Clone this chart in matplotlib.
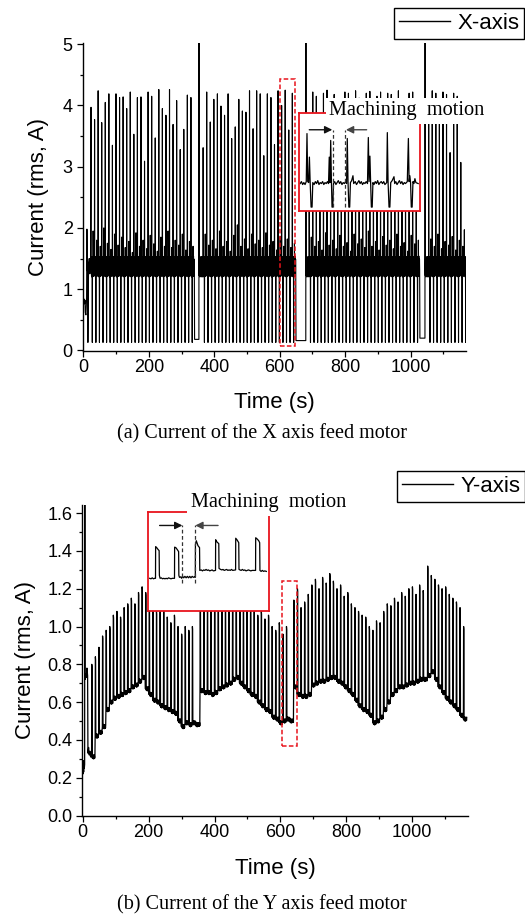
import numpy as np
import matplotlib
matplotlib.use("Agg")
import matplotlib.pyplot as plt
from matplotlib.ticker import MultipleLocator, FormatStrFormatter
from matplotlib.patches import Rectangle

plt.rcParams["font.family"] = ["Liberation Sans", "DejaVu Sans"]

W, H, DPI = 525, 917, 100

# ================= X-axis feed motor current =================
X_PERIOD = 10.9
x_start_t = [0, 2, 4, 5, 6, 8, 10, 11, 12, 13, 14, 16, 18, 20, 22]
x_start_v = [0.80, 0.84, 0.76, 0.82, 0.62, 0.58, 0.86, 1.98, 1.30, 1.45, 0.13, 1.35, 1.50, 1.25, 1.40]
x_seg_start = [23.5, 366.0, 690.0, 1055.0]
x_peaks_a = [3.97, 3.77, 4.24, 3.72, 4.05, 4.19, 3.35, 4.19, 4.13, 4.14, 3.95, 4.22, 3.53, 4.13,
             4.14, 3.09, 4.22, 4.15, 3.47, 4.26, 3.95, 3.84, 4.26, 3.69, 4.08, 3.28, 3.61, 4.17, 4.13]
x_peaks_b = [3.31, 4.22, 3.73, 4.10, 4.19, 3.99, 3.84, 4.19, 3.46, 3.65, 4.10, 3.91, 3.89, 4.24,
             3.62, 4.24, 4.19, 3.18, 4.19, 4.13, 3.36, 4.24, 4.00, 4.25, 3.60, 4.20]
x_peaks_c = [3.40, 4.22, 4.15, 3.70, 4.20, 4.25, 3.85, 4.18, 4.10, 3.55, 4.22, 4.20, 3.95, 4.24,
             4.12, 3.60, 4.20, 4.23, 3.90, 4.15, 4.22, 3.50, 4.20, 4.18, 3.80, 4.24, 4.10, 3.65,
             4.20, 4.22, 3.95]
x_peaks_d = [3.75, 4.24, 4.20, 3.77, 4.22, 4.18, 3.23, 4.20, 4.15, 3.07, 1.97]
x_meds_a = [1.95, 1.80, 1.70, 2.00, 1.75, 1.65, 1.90, 1.72, 1.85, 1.68, 1.78, 1.60, 1.92, 1.70,
            1.80, 1.66, 1.88, 1.74, 1.62, 1.85, 1.70, 1.95, 1.68, 1.80, 1.72, 1.90, 1.64, 1.78, 1.70]
x_meds_b = [1.90, 1.72, 1.80, 1.66, 1.95, 1.70, 1.78, 1.62, 1.88, 2.05, 1.70, 1.82, 1.66, 1.90,
            1.74, 1.80, 1.68, 1.92, 1.72, 1.78, 1.64, 1.86, 1.70, 1.82, 1.68, 1.75]
x_meds_c = [1.85, 1.70, 1.78, 1.64, 1.92, 1.72, 1.80, 1.66, 1.88, 1.70, 1.76, 1.62, 1.90, 1.74,
            1.82, 1.68, 1.95, 1.70, 1.78, 1.64, 1.86, 1.72, 1.80, 1.66, 1.90, 1.70, 1.76, 1.62,
            1.88, 1.74, 1.80]
x_meds_d = [1.82, 1.70, 1.90, 1.66, 1.78, 1.72, 1.86, 1.64, 1.80, 1.70, 1.60]
x_big_t = [353.5, 680.0, 1044.0]
x_big_v = [5.3, 5.3, 5.3]
x_low_v = [0.18, 0.16, 0.20]
x_after = [1.30, 1.48, 1.22, 1.40, 1.20, 1.53, 1.31]
x_dip = 0.13
x_mid = [1.20, 1.50, 1.33, 1.24]
x_tail = [1.45, 1.21, 1.54, 1.27, 1.40, 1.22, 1.49, 1.32]
x_fill = [1.36, 1.22, 1.50, 1.28, 1.46, 1.20, 1.53, 1.33]

# ================= Y-axis feed motor current =================
Y_PERIOD = 10.9
y_start_t = [0, 1, 2, 3, 4, 5, 6, 6.5, 7, 7.5, 9, 11, 13, 15, 16, 18, 20, 22, 24]
y_start_v = [0.26, 0.22, 0.29, 0.23, 0.28, 0.25, 0.27, 1.90, 0.74, 0.72, 0.75, 0.73, 0.78, 0.74,
             0.33, 0.36, 0.32, 0.34, 0.31]
y_seg_start = [27.0, 356.0, 640.0, 1046.0]
y_floor_a = [0.31, 0.42, 0.44, 0.47, 0.56, 0.60, 0.62, 0.63, 0.64, 0.65, 0.66, 0.68, 0.69, 0.71,
             0.73, 0.67, 0.64, 0.61, 0.60, 0.58, 0.57, 0.56, 0.55, 0.54, 0.50, 0.47, 0.49, 0.48, 0.49]
y_top_a = [0.80, 0.84, 0.89, 0.95, 0.98, 1.00, 1.06, 1.08, 1.05, 1.10, 1.12, 1.15, 1.12, 1.18,
           1.21, 1.18, 1.14, 1.16, 1.08, 1.10, 1.12, 1.05, 1.02, 1.06, 1.00, 0.96, 1.00, 0.98, 1.00]
y_floor_b = [0.66, 0.65, 0.65, 0.64, 0.65, 0.67, 0.68, 0.69, 0.70, 0.72, 0.73, 0.70, 0.68, 0.66,
             0.64, 0.63, 0.60, 0.58, 0.56, 0.55, 0.52, 0.51, 0.49, 0.50, 0.51]
y_top_b = [1.12, 1.10, 1.14, 1.08, 1.15, 1.17, 1.20, 1.16, 1.22, 1.19, 1.24, 1.21, 1.15, 1.18,
           1.12, 1.10, 1.06, 1.08, 1.04, 1.06, 1.00, 0.98, 1.02, 0.96, 1.00]
y_floor_c = [0.68, 0.64, 0.63, 0.63, 0.64, 0.69, 0.70, 0.71, 0.71, 0.72, 0.73, 0.73, 0.71, 0.70,
             0.68, 0.66, 0.64, 0.61, 0.58, 0.56, 0.55, 0.53, 0.49, 0.50, 0.52, 0.56, 0.60, 0.64,
             0.66, 0.68, 0.68, 0.69, 0.70, 0.70, 0.71, 0.72, 0.72]
y_top_c = [1.14, 1.20, 1.10, 1.13, 1.17, 1.22, 1.25, 1.20, 1.26, 1.23, 1.28, 1.24, 1.20, 1.22,
           1.16, 1.18, 1.12, 1.10, 1.08, 1.06, 1.05, 1.00, 0.98, 1.03, 1.02, 1.08, 1.12, 1.11,
           1.15, 1.13, 1.18, 1.16, 1.20, 1.21, 1.17, 1.22, 1.19]
y_floor_d = [0.74, 0.76, 0.72, 0.68, 0.65, 0.62, 0.60, 0.58, 0.56, 0.53, 0.51]
y_top_d = [1.32, 1.27, 1.25, 1.22, 1.20, 1.21, 1.17, 1.15, 1.13, 1.10, 1.00]
y_gap_v = [0.48, 0.50, 0.72]
y_noise = [0.000, 0.010, -0.008, 0.012, -0.006, 0.008, -0.011, 0.005, -0.004, 0.011, -0.009,
           0.006, -0.007, 0.009]

# ================= inset (zoomed) traces =================
ins_x = [(1, 0.28), (2, 0.30), (3, 0.27), (4, 0.29), (5, 0.27), (6, 0.30),
         (6.6, 0.79), (7.2, 0.30), (8.0, 0.29), (8.6, 0.55), (9.2, 0.30), (10.0, 0.04), (10.8, 0.04), (11.4, 0.29),
         (12.5, 0.27), (13.5, 0.30), (14.5, 0.28), (15.5, 0.31), (16.5, 0.27), (17.5, 0.29), (18.5, 0.28),
         (19.5, 0.30), (20.5, 0.27), (21.5, 0.29), (22.5, 0.28), (23.5, 0.30), (24.4, 0.28),
         (25.0, 0.55), (25.6, 0.29), (26.2, 0.72), (26.8, 0.30), (27.3, 0.04), (27.9, 0.04), (28.5, 0.28),
         (29.5, 0.30), (30.5, 0.27), (31.5, 0.29), (32.5, 0.31), (33.5, 0.28), (34.5, 0.30), (35.5, 0.27),
         (36.5, 0.29), (37.5, 0.28), (38.5, 0.30), (39.3, 0.28),
         (39.9, 0.74), (40.5, 0.30), (41.2, 0.04), (41.9, 0.04), (42.5, 0.29), (43.5, 0.31), (44.6, 0.36), (45.2, 0.28),
         (46.5, 0.30), (47.5, 0.27), (48.5, 0.29), (49.5, 0.31), (50.5, 0.28), (51.5, 0.30), (52.5, 0.27),
         (53.5, 0.29), (54.5, 0.28), (55.5, 0.30), (56.6, 0.28),
         (57.3, 0.75), (57.9, 0.30), (58.6, 0.56), (59.2, 0.29), (59.8, 0.04), (60.5, 0.04), (61.1, 0.29),
         (62, 0.27), (63, 0.30), (64, 0.28), (65, 0.31), (66, 0.27), (67, 0.29), (68, 0.30), (69, 0.28),
         (70, 0.30), (71, 0.27), (72.5, 0.29),
         (73.0, 0.80), (73.6, 0.30), (74.4, 0.04), (75.1, 0.04), (75.8, 0.29), (77, 0.31), (78.5, 0.35), (79.1, 0.28),
         (80, 0.30), (81, 0.27), (82, 0.29), (83, 0.31), (84, 0.28), (85, 0.30), (86, 0.27), (87, 0.29),
         (88, 0.28), (89.5, 0.30),
         (90.4, 0.74), (91.0, 0.30), (91.6, 0.36), (92.2, 0.29), (92.8, 0.04), (93.5, 0.04), (94.2, 0.30),
         (95, 0.28), (95.8, 0.33), (96.6, 0.29), (98.5, 0.28)]
ins_y = [(1.4, 0.33), (2.5, 0.325), (3.5, 0.335), (4.5, 0.325), (5.5, 0.33), (6.2, 0.33), (6.3, 0.65),
         (7.2, 0.64), (8.4, 0.62), (9.2, 0.61), (9.4, 0.36), (10, 0.33), (11, 0.335), (12, 0.325), (13, 0.33),
         (14, 0.325), (15, 0.33), (16, 0.325), (17, 0.335), (18, 0.33), (19, 0.325), (20, 0.33), (21.9, 0.33),
         (22.0, 0.645), (23, 0.64), (24.2, 0.62), (25.3, 0.60), (25.5, 0.36), (26, 0.34), (27, 0.345),
         (27.8, 0.33), (28.5, 0.35), (29.5, 0.335), (30.5, 0.35), (31.5, 0.335), (32.5, 0.35), (33.5, 0.335),
         (34.5, 0.35), (35.5, 0.335), (36.5, 0.35), (37.5, 0.34), (38.6, 0.345), (39.1, 0.34), (39.2, 0.67),
         (39.9, 0.71), (41.3, 0.66), (42.6, 0.64), (42.8, 0.41), (44, 0.415), (45, 0.405), (46, 0.415),
         (47, 0.41), (48, 0.42), (49, 0.41), (50, 0.415), (51, 0.405), (52, 0.41), (53, 0.415), (54, 0.405),
         (55.8, 0.41), (55.9, 0.72), (56.8, 0.70), (58.5, 0.68), (58.7, 0.43), (60, 0.42), (61, 0.415),
         (62, 0.42), (63, 0.41), (64, 0.415), (65, 0.42), (66, 0.41), (67, 0.415), (68, 0.41), (69, 0.42),
         (70, 0.41), (72.4, 0.415), (72.5, 0.735), (73.5, 0.72), (75.0, 0.69), (75.2, 0.42), (76, 0.415),
         (77, 0.41), (78, 0.42), (79, 0.41), (80, 0.415), (81, 0.405), (82, 0.41), (83, 0.415), (84, 0.41),
         (85, 0.405), (86, 0.41), (88.9, 0.41), (89.0, 0.74), (90, 0.73), (91.5, 0.71), (92.3, 0.69),
         (92.5, 0.41), (93.5, 0.40), (94.5, 0.41), (95.5, 0.40), (96.5, 0.405), (97.8, 0.40)]

# zoom windows (data coordinates) marked by red dashed boxes
x_zoom_box = (601, 0.07, 46, 4.36)
y_zoom_box = (604, 0.37, 45, 0.87)


def build_x():
    t = list(x_start_t)
    v = list(x_start_v)
    segs = [(x_seg_start[0], x_peaks_a, x_meds_a), (x_seg_start[1], x_peaks_b, x_meds_b),
            (x_seg_start[2], x_peaks_c, x_meds_c), (x_seg_start[3], x_peaks_d, x_meds_d)]
    for i, (t0, peaks, meds) in enumerate(segs):
        for k, (p, m) in enumerate(zip(peaks, meds)):
            vals = [p] + x_after + [x_dip] + x_mid + [m] + x_tail
            n = len(vals)
            tc = t0 + k * X_PERIOD
            t += [tc + j * X_PERIOD / n for j in range(n)]
            v += vals
        if i < len(x_big_t):
            t_end = t0 + len(peaks) * X_PERIOD
            tb = x_big_t[i]
            t += [t_end + 0.3, tb - 0.4, tb, tb + 0.4]
            v += [x_low_v[i], x_low_v[i], x_big_v[i], x_fill[0]]
            nxt = segs[i + 1][0]
            step = X_PERIOD / 22
            tt = tb + 0.4 + step
            j = 1
            while tt < nxt - 0.05:
                t.append(tt)
                v.append(x_fill[j % len(x_fill)])
                tt += step
                j += 1
    return np.array(t), np.array(v)


def build_y():
    t = list(y_start_t)
    v = list(y_start_v)
    segs = [(y_seg_start[0], y_floor_a, y_top_a), (y_seg_start[1], y_floor_b, y_top_b),
            (y_seg_start[2], y_floor_c, y_top_c), (y_seg_start[3], y_floor_d, y_top_d)]
    for i, (t0, floors, tops) in enumerate(segs):
        for k, (f, p) in enumerate(zip(floors, tops)):
            vals = [f + y_noise[0], p, p - 0.015] + [f + e for e in y_noise[1:]]
            n = len(vals)
            tc = t0 + k * Y_PERIOD
            t += [tc + j * Y_PERIOD / n for j in range(n)]
            v += vals
        if i < len(segs) - 1:
            t_end = t0 + len(floors) * Y_PERIOD
            nxt = segs[i + 1][0]
            step = Y_PERIOD / 16
            tt = t_end
            j = 0
            while tt < nxt - 0.05:
                t.append(tt)
                v.append(y_gap_v[i] + y_noise[j % len(y_noise)])
                tt += step
                j += 1
    return np.array(t), np.array(v)


tx, vx = build_x()
ty, vy = build_y()

fig = plt.figure(figsize=(W / DPI, H / DPI), dpi=DPI)

RED = "#e8141c"


def style_axes(ax):
    for s in ("top", "right"):
        ax.spines[s].set_visible(False)
    for s in ("left", "bottom"):
        ax.spines[s].set_linewidth(1.0)
    ax.tick_params(which="major", direction="out", length=4.0, width=0.9, labelsize=13, pad=2)
    ax.tick_params(which="minor", direction="out", length=2.5, width=0.9)
    ax.tick_params(axis="y", which="major", pad=3)
    ax.xaxis.set_major_locator(MultipleLocator(200))
    ax.xaxis.set_minor_locator(MultipleLocator(100))


# ---------- top panel ----------
ax1 = fig.add_axes([82.5 / W, 1 - 351 / H, (466 - 82.5) / W, (351 - 43) / H])
ax1.plot(tx, vx, color="black", lw=0.8, label="X-axis")
ax1.set_xlim(-2.5, 1169)
ax1.set_ylim(-0.01, 5.02)
style_axes(ax1)
ax1.yaxis.set_major_locator(MultipleLocator(1))
ax1.yaxis.set_minor_locator(MultipleLocator(0.5))
ax1.set_xlabel("Time (s)", fontsize=16)
ax1.set_ylabel("Current (rms, A)", fontsize=16)
ax1.xaxis.set_label_coords(0.5, -0.133)
ax1.yaxis.set_label_coords(-0.088, 0.5)
ax1.add_patch(Rectangle(x_zoom_box[:2], x_zoom_box[2], x_zoom_box[3], fill=False,
                        edgecolor=RED, lw=1.1, ls=(0, (3, 1.5)), zorder=5))
leg1 = ax1.legend(loc="upper right", bbox_to_anchor=(524 / W, 1 - 8 / H), bbox_transform=fig.transFigure,
                  frameon=True, fancybox=False, edgecolor="black", framealpha=1, fontsize=16,
                  handlelength=2.3, handletextpad=0.3, borderpad=0.22, borderaxespad=0)
leg1.get_frame().set_linewidth(1.0)
for ln in leg1.get_lines():
    ln.set_linewidth(1.0)

# ---------- bottom panel ----------
ax2 = fig.add_axes([82 / W, 1 - 815.5 / H, (468 - 82) / W, (815.5 - 505) / H])
ax2.plot(ty, vy, color="black", lw=0.9, label="Y-axis")
ax2.set_xlim(-2, 1169)
ax2.set_ylim(0, 1.643)
style_axes(ax2)
ax2.yaxis.set_major_locator(MultipleLocator(0.2))
ax2.yaxis.set_minor_locator(MultipleLocator(0.1))
ax2.yaxis.set_major_formatter(FormatStrFormatter("%.1f"))
ax2.set_xlabel("Time (s)", fontsize=16)
ax2.set_ylabel("Current (rms, A)", fontsize=16)
ax2.xaxis.set_label_coords(0.5, -0.137)
ax2.yaxis.set_label_coords(-0.119, 0.5)
ax2.add_patch(Rectangle(y_zoom_box[:2], y_zoom_box[2], y_zoom_box[3], fill=False,
                        edgecolor=RED, lw=1.1, ls=(0, (3, 1.5)), zorder=5))
leg2 = ax2.legend(loc="upper right", bbox_to_anchor=(525 / W, 1 - 471 / H), bbox_transform=fig.transFigure,
                  frameon=True, fancybox=False, edgecolor="black", framealpha=1, fontsize=16,
                  handlelength=2.3, handletextpad=0.3, borderpad=0.22, borderaxespad=0)
leg2.get_frame().set_linewidth(1.0)
for ln in leg2.get_lines():
    ln.set_linewidth(1.0)


# ---------- insets ----------
def make_inset(rect, pts, dash_t, dash_v, arr_y, arr_l, arr_r):
    ia = fig.add_axes(rect)
    ia.set_facecolor("white")
    for s in ia.spines.values():
        s.set_edgecolor(RED)
        s.set_linewidth(1.3)
    ia.set_xticks([])
    ia.set_yticks([])
    ia.set_xlim(0, 100)
    ia.set_ylim(0, 1)
    it = [p[0] for p in pts]
    iv = [p[1] for p in pts]
    ia.plot(it, iv, color="black", lw=0.9)
    for d in dash_t:
        ia.plot([d, d], dash_v, color="#333333", lw=0.9, ls=(0, (3, 2)))
    ia.annotate("", xy=(arr_l[1], arr_y), xytext=(arr_l[0], arr_y),
                arrowprops=dict(arrowstyle="-|>", color="#111111", lw=1.0, mutation_scale=11,
                                shrinkA=0, shrinkB=0))
    ia.annotate("", xy=(arr_r[1], arr_y), xytext=(arr_r[0], arr_y),
                arrowprops=dict(arrowstyle="-|>", color="#444444", lw=1.0, mutation_scale=11,
                                shrinkA=0, shrinkB=0))
    return ia


make_inset([299 / W, 1 - 211 / H, 121 / W, 98 / H], ins_x, [27.8, 38.3], [0.04, 0.83],
           0.829, (8.5, 27.5), (55.9, 38.8))
make_inset([148 / W, 1 - 611 / H, 121 / W, 99 / H], ins_y, [28.1, 39.1], [0.28, 0.864],
           0.864, (9.6, 28.4), (57.9, 39.1))

serif = ["Liberation Serif", "DejaVu Serif"]
fig.text(407 / W, 1 - 111 / H, "Machining  motion", family=serif, fontsize=14.6, ha="center",
         va="center", zorder=20, bbox=dict(facecolor="white", edgecolor="none", pad=2.5))
fig.text(268.5 / W, 1 - 503 / H, "Machining  motion", family=serif, fontsize=14.6, ha="center",
         va="center", zorder=20, bbox=dict(facecolor="white", edgecolor="none", pad=2.5))

fig.text(262 / W, 1 - 434 / H, "(a) Current of the X axis feed motor", family=serif, fontsize=14.5,
         ha="center", va="center")
fig.text(262 / W, 1 - 905 / H, "(b) Current of the Y axis feed motor", family=serif, fontsize=14.5,
         ha="center", va="center")

fig.savefig("out.png", dpi=DPI)
